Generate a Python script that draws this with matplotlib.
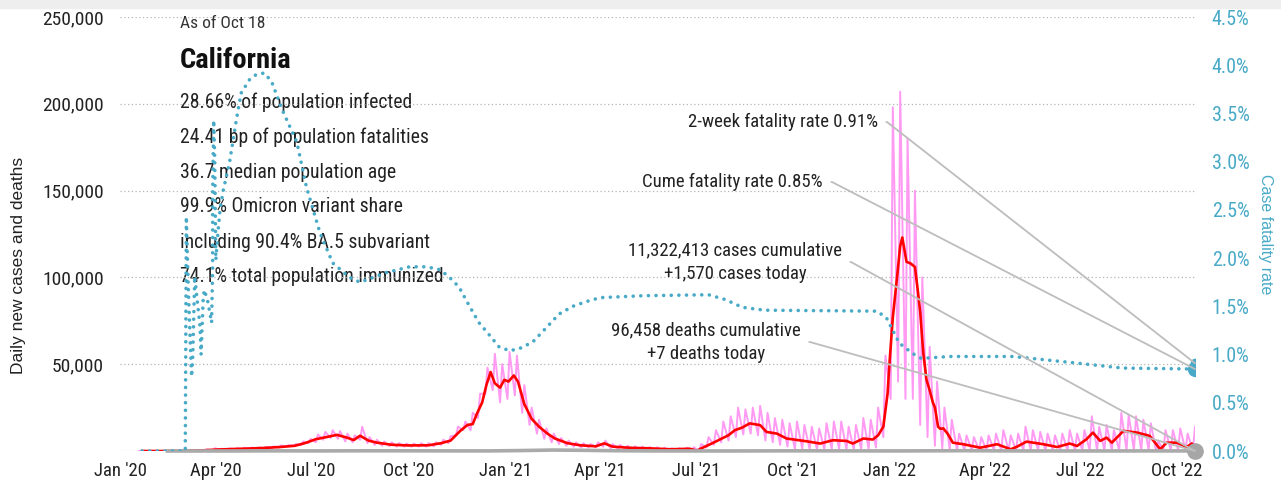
import numpy as np
import pandas as pd
import matplotlib.pyplot as plt
import matplotlib.dates as mdates
from matplotlib.patches import Rectangle

plt.rcParams['font.family'] = ['Roboto Condensed', 'Liberation Sans Narrow', 'DejaVu Sans']
plt.rcParams['font.stretch'] = 'condensed'

# Daily new cases, 7-day average (thousands)
red_dates = [
    '2020-01-22', '2020-02-20', '2020-03-05', '2020-03-20', '2020-04-01', '2020-04-15',
    '2020-05-01', '2020-05-15', '2020-06-01', '2020-06-15', '2020-06-25', '2020-07-05',
    '2020-07-15', '2020-07-25', '2020-08-03', '2020-08-10', '2020-08-16', '2020-08-24',
    '2020-09-01', '2020-09-15', '2020-10-01', '2020-10-20', '2020-11-01', '2020-11-10',
    '2020-11-19', '2020-11-26', '2020-12-01', '2020-12-05', '2020-12-10', '2020-12-14',
    '2020-12-18', '2020-12-22', '2020-12-27', '2020-12-31', '2021-01-04', '2021-01-09',
    '2021-01-13', '2021-01-19', '2021-01-26', '2021-02-02', '2021-02-10', '2021-02-17',
    '2021-03-01', '2021-03-13', '2021-03-28', '2021-04-05', '2021-04-13', '2021-05-01',
    '2021-05-15', '2021-06-07', '2021-06-25', '2021-07-02', '2021-07-06', '2021-07-16',
    '2021-07-25', '2021-08-01', '2021-08-07', '2021-08-14', '2021-08-21', '2021-08-31',
    '2021-09-06', '2021-09-16', '2021-09-25', '2021-10-14', '2021-10-27', '2021-11-08',
    '2021-11-21', '2021-11-27', '2021-12-07', '2021-12-16', '2021-12-21', '2021-12-26',
    '2021-12-30', '2022-01-01', '2022-01-04', '2022-01-08', '2022-01-11', '2022-01-13',
    '2022-01-15', '2022-01-17', '2022-01-21', '2022-01-25', '2022-01-28', '2022-01-30',
    '2022-02-02', '2022-02-05', '2022-02-08', '2022-02-11', '2022-02-13', '2022-02-16',
    '2022-02-18', '2022-02-21', '2022-02-25', '2022-03-02', '2022-03-12', '2022-03-28',
    '2022-04-13', '2022-04-26', '2022-05-02', '2022-05-11', '2022-05-27', '2022-06-09',
    '2022-06-21', '2022-06-28', '2022-07-07', '2022-07-13', '2022-07-20', '2022-07-26',
    '2022-07-31', '2022-08-08', '2022-08-11', '2022-08-24', '2022-09-05', '2022-09-15',
    '2022-09-21', '2022-10-01', '2022-10-10', '2022-10-15', '2022-10-18']
red_k = [
    0, 0, 0.1, 0.4, 0.8, 1.1,
    1.4, 1.7, 2.3, 3.0, 4.6, 6.8,
    8.0, 9.3, 7.8, 6.3, 8.8, 6.0,
    4.8, 3.6, 3.2, 3.3, 4.5, 6.0,
    11.5, 15.0, 15.5, 21.5, 28.0, 38.0,
    45.5, 39.0, 36.5, 41.0, 40.0, 43.5,
    40.0, 27.0, 18.5, 14.0, 10.0, 7.2,
    4.5, 3.3, 2.7, 4.4, 2.5, 1.8,
    1.6, 1.0, 1.3, 0.2, 1.5, 4.3,
    7.0, 9.1, 12.0, 13.5, 15.9, 14.9,
    11.0, 10.0, 7.2, 5.6, 4.3, 6.2,
    5.8, 4.3, 7.2, 6.6, 9.0, 14.0,
    33.0, 52.0, 77.0, 100.0, 118.0, 123.0,
    116.0, 109.0, 108.0, 106.0, 91.0, 80.0,
    56.0, 41.0, 35.0, 28.0, 25.0, 14.0,
    12.8, 13.0, 10.0, 4.8, 3.9, 1.9,
    3.9, 1.0, 2.5, 5.4, 3.9, 2.3,
    4.3, 2.9, 6.8, 10.6, 5.8, 7.7,
    4.8, 9.7, 11.6, 10.6, 8.7, 1.0,
    4.8, 4.8, 2.3, 4.3, 2.5]

# Reported daily cases: weekly trough (Sunday) and spike (Tuesday), thousands
week_start = '2020-01-19'
daily_lo = [
    0, 0, 0, 0, 0, 0, 0, 0.1, 0.3, 0.5,
    0.2, 0.8, 0.9, 1.0, 1.1, 1.2, 1.4, 1.5, 1.7, 2.0, 2.5, 3.0, 3.5, 4.5,
    5, 6.5, 7.5, 7, 5.5, 5, 6.5, 4.5, 3.5, 3, 2.8, 2.5, 2.5,
    2.5, 2.5, 2.5, 2.7, 3.5, 4.5, 9, 12,
    12, 19, 33, 35, 28, 30, 32, 22, 15,
    10, 7, 5, 4, 3, 2.5, 2, 2, 2.2,
    2.5, 1.5, 1.3, 1.1, 1.0, 0.9, 0.8, 0.7, 0.5, 0.4, 0.4, 0.5, 0.3,
    0, 2, 3.5, 5, 6, 8, 9.5, 10, 9, 6, 5, 3.5, 2.5,
    1, 1, 1, 0.8, 1, 1, 1, 0.8, 0.8, 1, 1, 2, 8,
    30, 40, 30, 30, 15, 8, 3, 1.5, 1,
    0.3, 0.3, 0.3, 0.3, 0.3, 0.3, 0.3, 0.3, 0.3, 0.3, 0.3, 0.3, 0.3, 0.3, 0.3, 0.3, 0.3,
    0.3, 0.3, 0.3, 0.3, 0.3, 0.3, 0.3, 0.3, 0.3, 0.3, 0, 0.3, 0.3, 0.3, 0.3, 0.3]
daily_hi = [
    0, 0, 0, 0, 0, 0, 0.1, 0.3, 0.6, 1.0,
    1.6, 1.3, 1.5, 1.6, 1.9, 2.0, 2.1, 2.4, 2.6, 3.2, 3.5, 4.0, 5.5, 7.0,
    9.5, 11, 12, 11.5, 10, 9, 14, 8, 6.5, 5.5, 5, 4.5, 4.3,
    4.3, 4.5, 4.5, 5, 6.5, 8.5, 14, 17,
    22, 33, 48, 56, 50, 57, 55, 38, 25,
    18, 13, 10, 7.5, 6, 5, 4.5, 4, 5,
    6, 4, 3.5, 3, 2.7, 2.5, 2.3, 2.2, 1.9, 1.6, 1.6, 1.9, 2.2,
    4, 8, 12, 17, 20, 25, 24, 25, 26, 22, 19, 18, 16,
    17, 15, 14, 13, 16, 17, 17, 14, 15, 19, 18, 25, 55,
    198, 207, 180, 150, 100, 60, 40, 25, 18,
    10, 9, 8, 8, 9, 10, 12, 9, 10, 14, 12, 11, 10, 9, 10, 12, 10,
    12, 20, 14, 15, 12, 22, 21, 20, 18, 16, 6, 12, 12, 13, 10, 14]

# Daily deaths (thousands), mid-month
death_dates = pd.date_range('2020-01-15', '2022-10-15', freq='MS') + pd.Timedelta(days=14)
death_k = [0, 0, 0.01, 0.08, 0.07, 0.06, 0.12, 0.13, 0.09, 0.06, 0.05, 0.25,
           0.55, 0.4, 0.15, 0.05, 0.03, 0.02, 0.03, 0.08, 0.11, 0.07, 0.05, 0.05,
           0.12, 0.17, 0.07, 0.03, 0.02, 0.03, 0.04, 0.05, 0.04]

# Case fatality rate (%)
cfr_dates = [
    '2020-01-22', '2020-03-03', '2020-03-04', '2020-03-06', '2020-03-09', '2020-03-10',
    '2020-03-12', '2020-03-13', '2020-03-17', '2020-03-18', '2020-03-20', '2020-03-21',
    '2020-03-24', '2020-03-28', '2020-03-29', '2020-03-29', '2020-03-30', '2020-03-31',
    '2020-04-01', '2020-04-03', '2020-04-05', '2020-04-08', '2020-04-14', '2020-04-20',
    '2020-04-25', '2020-05-03', '2020-05-09', '2020-05-17', '2020-05-24', '2020-06-03',
    '2020-06-17', '2020-06-26', '2020-07-09', '2020-07-21', '2020-08-06', '2020-08-16',
    '2020-09-10', '2020-10-02', '2020-10-18', '2020-10-31', '2020-11-09', '2020-11-18',
    '2020-11-28', '2020-12-07', '2020-12-17', '2020-12-26', '2021-01-05', '2021-01-14',
    '2021-01-27', '2021-02-09', '2021-02-21', '2021-03-06', '2021-03-19', '2021-04-01',
    '2021-05-12', '2021-07-13', '2021-07-29', '2021-08-14', '2021-09-04', '2021-12-20',
    '2021-12-29', '2022-01-10', '2022-01-23', '2022-01-31', '2022-02-27', '2022-04-28',
    '2022-06-29', '2022-08-10', '2022-10-18']
cfr_pct = [
    0.0, 0.0, 2.43, 1.64, 0.77, 0.94,
    1.81, 1.70, 1.29, 1.00, 1.57, 1.67,
    1.57, 1.33, 1.91, 2.68, 3.43, 3.02,
    1.98, 2.26, 2.50, 2.70, 2.99, 3.40,
    3.71, 3.85, 3.90, 3.92, 3.83, 3.54,
    3.20, 2.74, 2.26, 1.95, 1.80, 1.75,
    1.85, 1.91, 1.91, 1.88, 1.80, 1.70,
    1.50, 1.33, 1.20, 1.08, 1.04, 1.06,
    1.13, 1.28, 1.42, 1.50, 1.55, 1.59,
    1.61, 1.62, 1.57, 1.49, 1.46, 1.45,
    1.38, 1.12, 1.01, 0.96, 0.98, 0.98,
    0.91, 0.86, 0.85]

stats_lines = ['28.66% of population infected',
               '24.41 bp of population fatalities',
               '36.7 median population age',
               '99.9% Omicron variant share',
               'including 90.4% BA.5 subvariant',
               '74.1% total population immunized']
two_week_cfr = 0.91
cume_cfr = 0.85
cases_cum = '11,322,413'
cases_today = '+1,570'
deaths_cum = '96,458'
deaths_today = '+7'
last_day = pd.Timestamp('2022-10-18')

TEAL = '#48aac7'
GREY_LINE = '#bdbdbd'

red_x = pd.to_datetime(red_dates)
red_y = np.array(red_k) * 1000
weeks = pd.date_range(week_start, periods=len(daily_hi), freq='7D')
pink_x = np.empty(2 * len(weeks), dtype='datetime64[ns]')
pink_x[0::2] = weeks.values
pink_x[1::2] = (weeks + pd.Timedelta(days=2)).values
pink_y = np.empty(2 * len(weeks))
pink_y[0::2] = np.array(daily_lo) * 1000
pink_y[1::2] = np.array(daily_hi) * 1000

fig = plt.figure(figsize=(12.81, 4.91), dpi=100)
fig.patches.append(Rectangle((0, 1 - 8 / 491), 1, 8 / 491, transform=fig.transFigure,
                             color='#eeeeee', zorder=0))
ax = fig.add_axes([120 / 1281, 1 - 451 / 491, 1075 / 1281, 434 / 491])
ax2 = ax.twinx()

ax.plot(pink_x, pink_y, color='#ff9af3', lw=1.4, zorder=2)
ax.plot(red_x, red_y, color='#ff0000', lw=1.9, zorder=3)
ax.plot(death_dates, np.array(death_k) * 1000, color='#aaaaaa', lw=2.6, zorder=4, clip_on=False)
ax.plot([last_day], [0], 'o', color='#a6a6a6', ms=11, zorder=5, clip_on=False)

ax2.plot(pd.to_datetime(cfr_dates), cfr_pct, color=TEAL, lw=2.6,
         linestyle=(0, (0.01, 2.1)), dash_capstyle='round', zorder=3)
ax2.plot([last_day], [cume_cfr], 'o', color=TEAL, ms=10, zorder=5)
ax2.plot([last_day], [two_week_cfr], 'o', color=TEAL, ms=6, zorder=5)

ax.set_xlim(pd.Timestamp('2020-01-01'), last_day)
ax.set_ylim(0, 250000)
ax2.set_ylim(0, 4.5)
ax.set_yticks(np.arange(0, 250001, 50000))
ax.set_yticklabels([''] + [f'{v:,}' for v in range(50000, 250001, 50000)])
ax2.set_yticks(np.arange(0, 4.51, 0.5))
ax2.set_yticklabels([f'{v:.1f}%' for v in np.arange(0, 4.51, 0.5)])
ax.xaxis.set_major_locator(mdates.MonthLocator(bymonth=[1, 4, 7, 10]))
ax.xaxis.set_major_formatter(mdates.DateFormatter("%b '%y"))

ax.tick_params(axis='y', length=0, pad=11.5, labelsize=14, labelcolor='#222222')
ax.tick_params(axis='x', length=0, pad=8, labelsize=13.5, labelcolor='#222222')
ax2.tick_params(axis='y', length=0, pad=12, labelsize=14.5, labelcolor=TEAL)
for a in (ax, ax2):
    for s in a.spines.values():
        s.set_visible(False)
ax.grid(axis='y', color='#b5b5b5', lw=0.9, linestyle=(0, (1, 2)))

fig.text(19 / 1281, 1 - 265 / 491, 'Daily new cases and deaths', rotation=90,
         ha='center', va='center', fontsize=12.5, family='Liberation Sans',
         stretch='normal', color='#222222')
fig.text(1265 / 1281, 1 - 234 / 491, 'Case fatality rate', rotation=270,
         ha='center', va='center', fontsize=11.5, family='Liberation Sans',
         stretch='normal', color=TEAL)

# Title block
tx = 60 / 1075
ax.text(tx, 1 - 7 / 434, 'As of Oct 18', transform=ax.transAxes, fontsize=12.5,
        va='center', color='#333333')
ax.text(tx, 1 - 43 / 434, 'California', transform=ax.transAxes, fontsize=20.5,
        va='center', color='#111111', weight='bold')
for i, line in enumerate(stats_lines):
    ax.text(tx, 1 - (85 + 35 * i) / 434, line, transform=ax.transAxes, fontsize=14.2,
            va='center', color='#222222', zorder=1)

# Callouts
arrow = dict(arrowstyle='-', color=GREY_LINE, lw=1.3, shrinkA=4, shrinkB=0,
             relpos=(1, 0.5), connectionstyle='arc,angleA=0,armA=9,armB=0,rad=0')
ax2.annotate(f'2-week fatality rate {two_week_cfr:.2f}%', xy=(last_day, two_week_cfr),
             xytext=((878 - 120) / 1075, (451 - 122) / 434), textcoords='axes fraction',
             ha='right', va='center', fontsize=13.5, color='#222222', arrowprops=arrow, zorder=6)
ax2.annotate(f'Cume fatality rate {cume_cfr:.2f}%', xy=(last_day, cume_cfr),
             xytext=((823 - 120) / 1075, (451 - 182) / 434), textcoords='axes fraction',
             ha='right', va='center', fontsize=13.5, color='#222222', arrowprops=arrow, zorder=6)
ax2.annotate(f'{cases_cum} cases cumulative\n{cases_today} cases today', xy=(last_day, 0),
             xytext=((735 - 120) / 1075, (451 - 262) / 434), textcoords='axes fraction',
             ha='center', va='center', multialignment='center', linespacing=1.4,
             fontsize=13.5, color='#222222', arrowprops=arrow, zorder=6)
ax2.annotate(f'{deaths_cum} deaths cumulative\n{deaths_today} deaths today', xy=(last_day, 0),
             xytext=((706 - 120) / 1075, (451 - 342) / 434), textcoords='axes fraction',
             ha='center', va='center', multialignment='center', linespacing=1.4,
             fontsize=13.5, color='#222222', arrowprops=arrow, zorder=6)

fig.savefig('out.png', dpi=100)
